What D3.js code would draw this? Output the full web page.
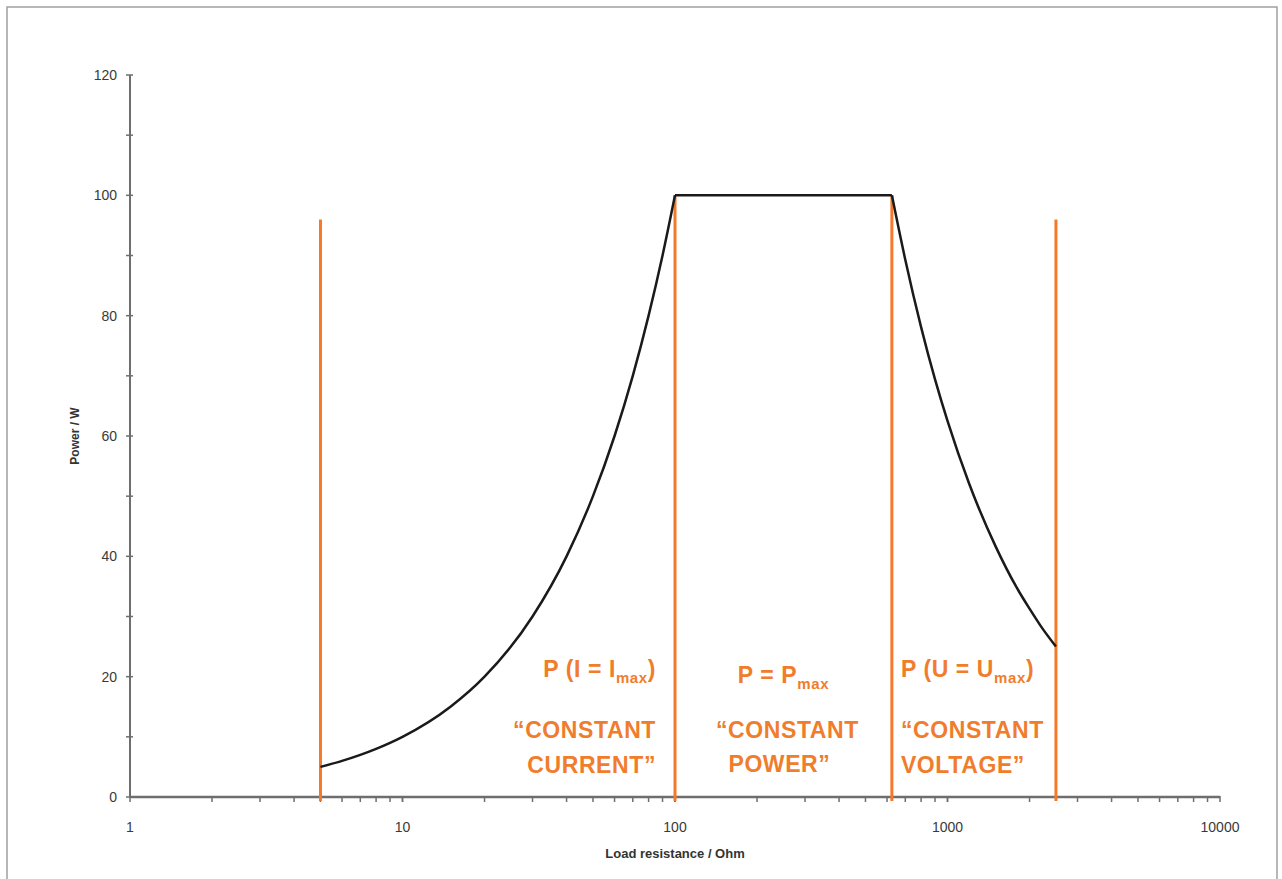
<!DOCTYPE html>
<html>
<head>
<meta charset="utf-8">
<script src="https://cdn.jsdelivr.net/npm/d3@7"></script>
<style>
  body { margin: 0; background: #fff; }
  svg { display: block; font-family: "Liberation Sans", Arial, sans-serif; }
</style>
</head>
<body>
<div id="chart"></div>
<script>
// curve: load resistance (Ohm) vs power (W)
const resistance = [5, 6, 7, 8, 9, 10, 15, 20, 30, 40, 50, 60, 70, 80, 90, 100,
                    625, 700, 800, 900, 1000, 1200, 1500, 1800, 2000, 2200, 2500];
const power      = [5, 6, 7, 8, 9, 10, 15, 20, 30, 40, 50, 60, 70, 80, 90, 100,
                    100, 89.3, 78.1, 69.4, 62.5, 52.1, 41.7, 34.7, 31.3, 28.4, 25];

// orange region boundaries
const boundaryR   = [5, 100, 625, 2500];
const boundaryTop = [96, 100, 100, 96];

const yTicks = [0, 20, 40, 60, 80, 100, 120];
const xTicks = [1, 10, 100, 1000, 10000];

const width = 1282, height = 879;
const margin = {left: 130, right: 62, top: 75, bottom: 82};

const svg = d3.select("#chart")
    .append("svg")
    .attr("width", width)
    .attr("height", height);

// outer frame
svg.append("rect")
    .attr("x", 7).attr("y", 7)
    .attr("width", 1270).attr("height", 885)
    .attr("fill", "none")
    .attr("stroke", "#a0a0a0")
    .attr("stroke-width", 1.5);

const x = d3.scaleLog()
    .domain([1, 10000])
    .range([margin.left, width - margin.right]);

const y = d3.scaleLinear()
    .domain([0, 120])
    .range([height - margin.bottom, margin.top]);

const axisColor = "#6e6e6e";

// y axis
const yAxis = svg.append("g")
    .attr("transform", `translate(${margin.left},0)`);
yAxis.append("line")
    .attr("y1", y(0)).attr("y2", y(120))
    .attr("stroke", axisColor).attr("stroke-width", 2);
yAxis.selectAll("line.minor")
    .data(d3.range(0, 121, 10))
    .join("line")
    .attr("class", "minor")
    .attr("x1", -4).attr("x2", 3)
    .attr("y1", d => y(d)).attr("y2", d => y(d))
    .attr("stroke", axisColor).attr("stroke-width", 1.5);
yAxis.selectAll("text")
    .data(yTicks)
    .join("text")
    .attr("x", -13)
    .attr("y", d => y(d) + 5)
    .attr("text-anchor", "end")
    .attr("font-size", 14)
    .attr("fill", "#3a3a3a")
    .text(d => d);

// x axis
const xAxis = svg.append("g")
    .attr("transform", `translate(0,${y(0)})`);
xAxis.append("line")
    .attr("x1", x(1)).attr("x2", x(10000))
    .attr("stroke", axisColor).attr("stroke-width", 2.5);
const minorX = [];
for (let dec of [1, 10, 100, 1000]) {
    for (let k = 1; k <= 10; k++) minorX.push(dec * k);
}
xAxis.selectAll("line.minor")
    .data(minorX)
    .join("line")
    .attr("class", "minor")
    .attr("x1", d => x(d)).attr("x2", d => x(d))
    .attr("y1", -1).attr("y2", 5)
    .attr("stroke", axisColor).attr("stroke-width", 1.5);
xAxis.selectAll("text")
    .data(xTicks)
    .join("text")
    .attr("x", d => x(d))
    .attr("y", 35)
    .attr("text-anchor", "middle")
    .attr("font-size", 14)
    .attr("fill", "#3a3a3a")
    .text(d => d);

// axis titles
svg.append("text")
    .attr("x", x(100))
    .attr("y", 858)
    .attr("text-anchor", "middle")
    .attr("font-size", 13)
    .attr("font-weight", "bold")
    .attr("fill", "#333")
    .text("Load resistance / Ohm");

svg.append("text")
    .attr("transform", `translate(79,${(y(0) + y(120)) / 2}) rotate(-90)`)
    .attr("text-anchor", "middle")
    .attr("font-size", 12)
    .attr("font-weight", "bold")
    .attr("fill", "#333")
    .text("Power / W");

// orange boundary lines
const orange = "#f47a2a";
svg.append("g")
    .selectAll("line")
    .data(boundaryR)
    .join("line")
    .attr("x1", d => x(d)).attr("x2", d => x(d))
    .attr("y1", y(0) + 4)
    .attr("y2", (d, i) => y(boundaryTop[i]))
    .attr("stroke", orange)
    .attr("stroke-width", 3);

// power curve, drawn in three pieces so the corners stay sharp
const pts = resistance.map((r, i) => [r, power[i]]);
const iLeftEnd = resistance.indexOf(100);
const iRightStart = resistance.indexOf(625);
const segments = [
    {data: pts.slice(0, iLeftEnd + 1), curve: d3.curveMonotoneX},
    {data: pts.slice(iLeftEnd, iRightStart + 1), curve: d3.curveLinear},
    {data: pts.slice(iRightStart), curve: d3.curveMonotoneX}
];

svg.append("g")
    .selectAll("path")
    .data(segments)
    .join("path")
    .attr("d", s => d3.line()
        .x(d => x(d[0]))
        .y(d => y(d[1]))
        .curve(s.curve)(s.data))
    .attr("fill", "none")
    .attr("stroke", "#1a1a1a")
    .attr("stroke-width", 2.5)
    .attr("stroke-linejoin", "miter");

// region annotations
const textOrange = "#f07d2c";
const labels = svg.append("g")
    .attr("fill", textOrange)
    .attr("font-weight", "bold")
    .attr("font-size", 23)
    .attr("letter-spacing", 0.6);

function sub(textSel, main, subText, tail) {
    textSel.append("tspan").text(main);
    textSel.append("tspan").attr("font-size", 15).attr("dy", 6).text(subText);
    if (tail) textSel.append("tspan").attr("dy", -6).text(tail);
}

// constant current, right aligned to the 100 Ohm line
const xCC = x(100) - 19;
sub(labels.append("text").attr("x", xCC).attr("y", 677).attr("text-anchor", "end"),
    "P (I = I", "max", ")");
labels.append("text").attr("x", xCC).attr("y", 738).attr("text-anchor", "end").text("\u201CCONSTANT");
labels.append("text").attr("x", xCC).attr("y", 773).attr("text-anchor", "end").text("CURRENT\u201D");

// constant power, centred between 100 and 625
const xCP = (x(100) + x(625)) / 2;
sub(labels.append("text").attr("x", xCP).attr("y", 683).attr("text-anchor", "middle"),
    "P = P", "max", "");
labels.append("text").attr("x", xCP + 4).attr("y", 738).attr("text-anchor", "middle").text("\u201CCONSTANT");
labels.append("text").attr("x", xCP - 4).attr("y", 772).attr("text-anchor", "middle").text("POWER\u201D");

// constant voltage, left aligned to the 625 line
const xCV = x(625) + 9;
sub(labels.append("text").attr("x", xCV).attr("y", 677),
    "P (U = U", "max", ")");
labels.append("text").attr("x", xCV).attr("y", 738).text("\u201CCONSTANT");
labels.append("text").attr("x", xCV).attr("y", 773).text("VOLTAGE\u201D");
</script>
</body>
</html>
